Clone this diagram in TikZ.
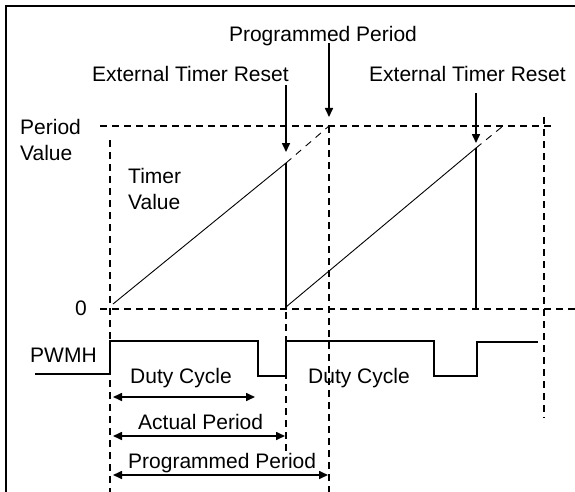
\documentclass[tikz,border=0pt]{standalone}
\usepackage{fontspec}
\setmainfont{Liberation Sans}
\usetikzlibrary{arrows.meta}
\begin{document}
\begin{tikzpicture}[x=1pt,y=-1pt,
  font=\fontsize{21}{24}\selectfont,
  lbl/.style={inner sep=0pt,anchor=base west},
  dsh/.style={line width=1.4pt,dash pattern=on 7pt off 5pt},
  sig/.style={line width=1.6pt},
  ramp/.style={line width=0.9pt},
  rampdsh/.style={line width=0.9pt,dash pattern=on 7pt off 6pt},
  arr/.style={line width=1.6pt,-{Triangle[length=9pt,width=8pt]}},
  darr/.style={line width=1.6pt,{Triangle[length=9pt,width=8pt]}-{Triangle[length=9pt,width=8pt]}}]
\useasboundingbox (0,0) rectangle (575,492);
% frame
\coordinate (fb) at (6,492);
\coordinate (fc) at (6,6);
\coordinate (fr) at (575,6);
\draw[line width=2pt] (fb) -- (fc) -- (fr);
% labels
\node[inner sep=0pt,anchor=base] (pptop) at (323,42) {Programmed Period};
\node[lbl] (etr1) at (92,82) {External Timer Reset};
\node[lbl] (etr2) at (369,82) {External Timer Reset};
\node[lbl] (per) at (20,134) {Period};
\node[lbl] (val) at (20,160) {Value};
\node[lbl] (tim) at (128,183) {Timer};
\node[lbl] (tval) at (128,209) {Value};
\node[lbl] (zero) at (75,315) {0};
\node[lbl] (pwmh) at (30,362) {PWMH};
\node[lbl] (dc1) at (130,383) {Duty Cycle};
\node[lbl] (dc2) at (308,383) {Duty Cycle};
\node[lbl] (ap) at (138,429) {Actual Period};
\node[lbl] (pp) at (128,468) {Programmed Period};
% coordinates
\coordinate (pvL) at (100,126); \coordinate (pvR) at (553,126);
\coordinate (zL) at (100,309); \coordinate (zR) at (575,309);
\coordinate (v1t) at (110,140); \coordinate (v1b) at (110,492);
\coordinate (v2t) at (329,126); \coordinate (v2b) at (329,492);
\coordinate (v3t) at (286,312); \coordinate (v3b) at (286,452);
\coordinate (v4t) at (544,117); \coordinate (v4b) at (544,418);
\coordinate (r1s) at (113,304); \coordinate (r1e) at (286,163);
\coordinate (r1x) at (329,126);
\coordinate (r1z) at (286,309);
\coordinate (r2s) at (286,307); \coordinate (r2e) at (476,148);
\coordinate (r2x) at (503,126);
\coordinate (r2z) at (476,309);
\coordinate (a1s) at (329,43); \coordinate (a1e) at (329,117);
\coordinate (a2s) at (286,85); \coordinate (a2e) at (286,152);
\coordinate (a3s) at (476,93); \coordinate (a3e) at (476,143);
\coordinate (dcL) at (113,397); \coordinate (dcR) at (255,397);
\coordinate (apL) at (113,436); \coordinate (apR) at (285,436);
\coordinate (ppL) at (113,475); \coordinate (ppR) at (328,475);
% dashed guides
\draw[dsh] (pvL) -- (pvR);
\draw[dsh] (zL) -- (zR);
\draw[dsh] (v1t) -- (v1b);
\draw[dsh] (v2t) -- (v2b);
\draw[dsh] (v3t) -- (v3b);
\draw[dsh] (v4t) -- (v4b);
% timer ramps
\draw[ramp] (r1s) -- (r1e);
\draw[rampdsh] (r1e) -- (r1x);
\draw[sig] (r1e) -- (r1z);
\draw[ramp] (r2s) -- (r2e);
\draw[rampdsh] (r2e) -- (r2x);
\draw[sig] (r2e) -- (r2z);
% arrows
\draw[arr] (a1s) -- (a1e);
\draw[arr] (a2s) -- (a2e);
\draw[arr] (a3s) -- (a3e);
% PWMH signal
\draw[sig] (35,374) -- (110,374) -- (110,341) -- (258,341) -- (258,376) -- (286,376) -- (286,341) -- (434,341) -- (434,376) -- (477,376) -- (477,342) -- (538,342);
% measures
\draw[darr] (dcL) -- (dcR);
\draw[darr] (apL) -- (apR);
\draw[darr] (ppL) -- (ppR);
\end{tikzpicture}
\end{document}
